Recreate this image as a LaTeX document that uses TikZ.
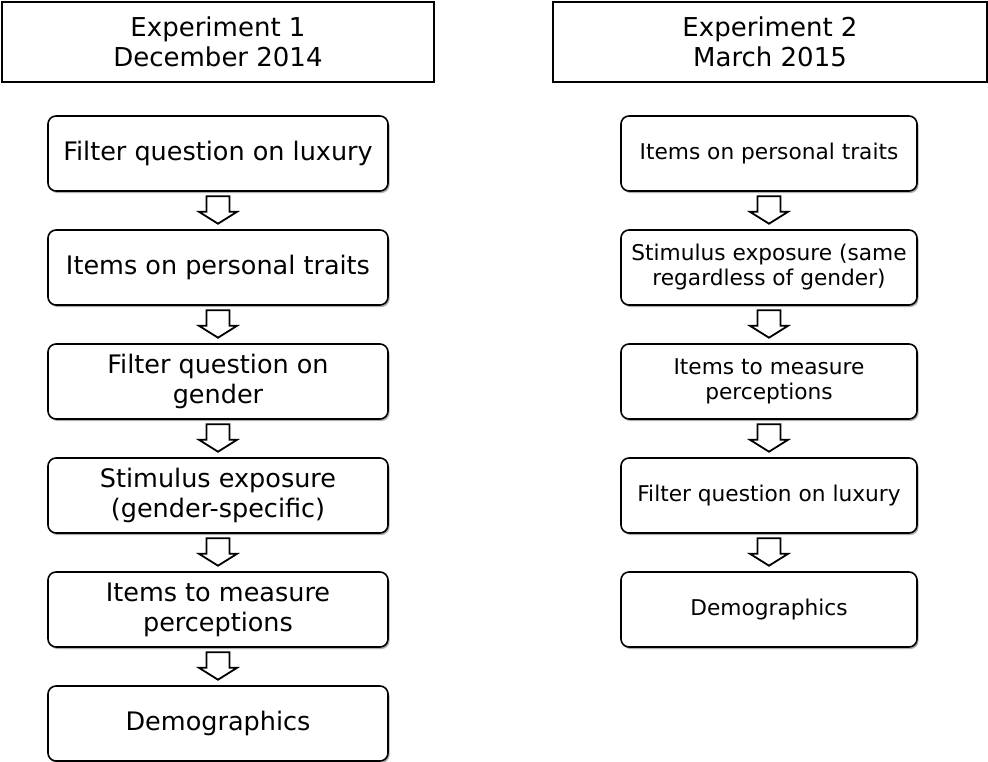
\documentclass[tikz,border=0pt]{standalone}
\usepackage{fontspec}
\setmainfont{DejaVu Sans}
\usetikzlibrary{shadows}
\tikzset{
  header/.style={draw=black, line width=1.3pt, minimum width=432pt, minimum height=80pt, inner sep=0pt, align=center, font=\fontsize{26}{30}\selectfont},
  lbox/.style={draw=black, line width=1.6pt, rounded corners=8pt, fill=white, minimum width=340pt, minimum height=75pt, inner sep=0pt, align=center, font=\fontsize{25.5}{30}\selectfont, drop shadow={shadow xshift=1.5pt, shadow yshift=-2pt, opacity=0.45, fill=black!70}},
  rbox/.style={lbox, minimum width=296pt, font=\fontsize{21.7}{25}\selectfont},
  arrowstyle/.style={draw=black, line width=1.8pt, fill=white, line join=miter}
}
\newcommand\blockarrow[2]{%
  \draw[arrowstyle] ([xshift=-11.5pt,yshift=-4.5pt]#1.south) -- ([xshift=11.5pt,yshift=-4.5pt]#1.south)
    -- ([xshift=11.5pt,yshift=-20pt]#1.south) -- ([xshift=19pt,yshift=-20pt]#1.south)
    -- ([yshift=5.5pt]#2.north) -- ([xshift=-19pt,yshift=-20pt]#1.south)
    -- ([xshift=-11.5pt,yshift=-20pt]#1.south) -- cycle;}
\begin{document}
\begin{tikzpicture}[x=1pt,y=-1pt]
\useasboundingbox (0,0) rectangle (988,761);
\node[header] (h1) at (218,42) {Experiment 1\\December 2014};
\node[header, minimum width=434pt] (h2) at (770,42) {Experiment 2\\March 2015};

\node[lbox] (l1) at (218,153.5) {Filter question on luxury};
\node[lbox] (l2) at (218,267.5) {Items on personal traits};
\node[lbox] (l3) at (218,381.5) {Filter question on\\gender};
\node[lbox] (l4) at (218,495.5) {Stimulus exposure\\(gender-specific)};
\node[lbox] (l5) at (218,609.5) {Items to measure\\perceptions};
\node[lbox] (l6) at (218,723.5) {Demographics};

\node[rbox] (r1) at (769,153.5) {Items on personal traits};
\node[rbox] (r2) at (769,267.5) {Stimulus exposure (same\\regardless of gender)};
\node[rbox] (r3) at (769,381.5) {Items to measure\\perceptions};
\node[rbox] (r4) at (769,495.5) {Filter question on luxury};
\node[rbox] (r5) at (769,609.5) {Demographics};

\blockarrow{l1}{l2}
\blockarrow{l2}{l3}
\blockarrow{l3}{l4}
\blockarrow{l4}{l5}
\blockarrow{l5}{l6}
\blockarrow{r1}{r2}
\blockarrow{r2}{r3}
\blockarrow{r3}{r4}
\blockarrow{r4}{r5}
\end{tikzpicture}
\end{document}
